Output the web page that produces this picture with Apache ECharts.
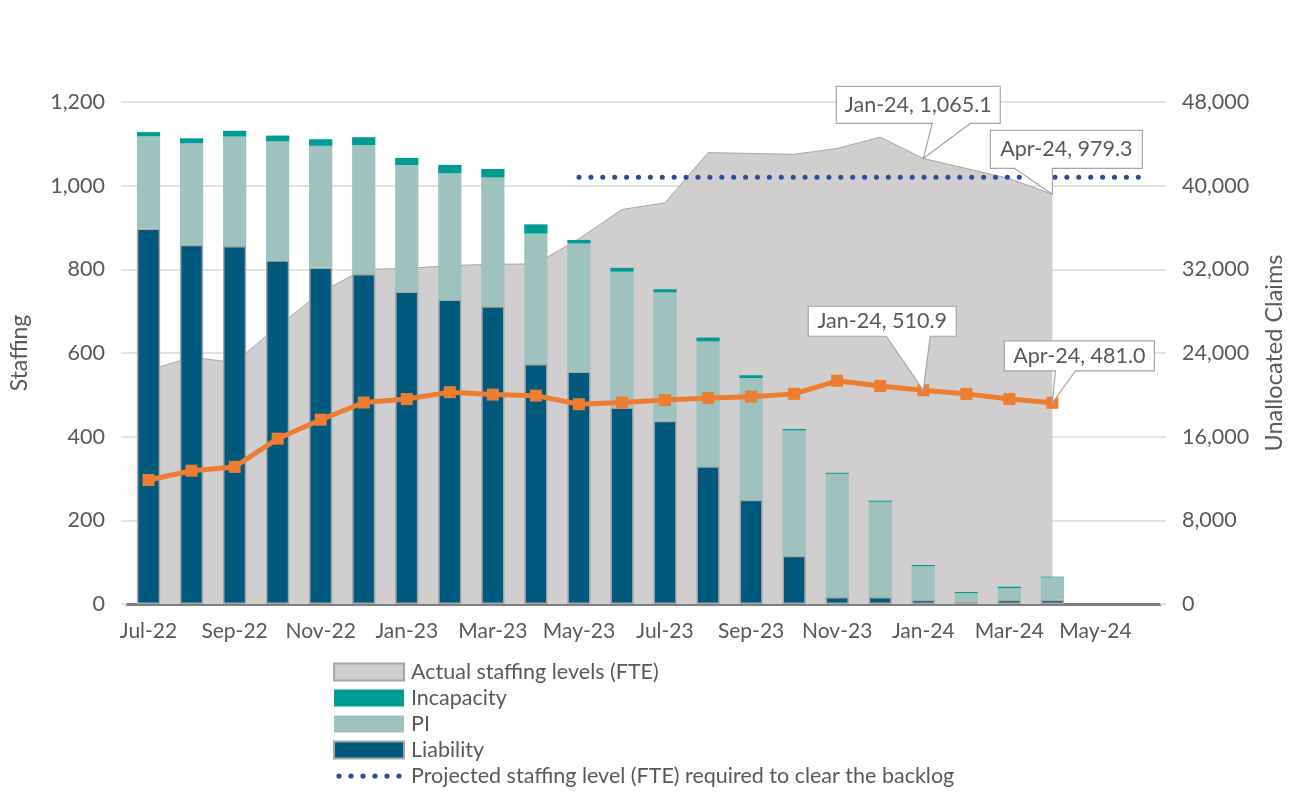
<!DOCTYPE html>
<html>
<head>
<meta charset="utf-8">
<script src="https://cdn.jsdelivr.net/npm/echarts@6/dist/echarts.min.js"></script>
<style>
html,body{margin:0;padding:0;background:#fff;}
#chart{width:1309px;height:797px;}
</style>
</head>
<body>
<div id="chart"></div>
<script>
const categories = ['Jul-22','Aug-22','Sep-22','Oct-22','Nov-22','Dec-22','Jan-23','Feb-23','Mar-23','Apr-23','May-23','Jun-23','Jul-23','Aug-23','Sep-23','Oct-23','Nov-23','Dec-23','Jan-24','Feb-24','Mar-24','Apr-24','May-24','Jun-24'];
const actualStaffing = [559, 590, 577, 663, 745, 800, 802, 809, 812, 813, 873, 943, 959, 1079, 1077, 1075, 1089, 1116, 1065.1, 1041, 1017, 979.3, null, null];
const staffingLine = [296.4, 318.6, 327.7, 395.2, 440.5, 481.7, 489.9, 506.4, 500.6, 498.1, 477.6, 481.7, 487.4, 492.4, 495.7, 502.3, 533.6, 521.2, 510.9, 502.3, 489.9, 481.0, null, null];
const liability = [35900, 34350, 34220, 32870, 32180, 31550, 29870, 29120, 28460, 22960, 22230, 18800, 17520, 13170, 9980, 4610, 660, 660, 400, 260, 400, 400, null, null];
const pi = [8820, 9720, 10470, 11360, 11630, 12320, 12090, 12050, 12320, 12450, 12250, 12980, 12280, 11950, 11630, 11990, 11790, 9120, 3230, 790, 1120, 2140, null, null];
const incapacity = [400, 460, 560, 560, 630, 760, 690, 820, 820, 890, 330, 360, 300, 360, 260, 130, 100, 100, 100, 100, 130, 70, null, null];
const projected = [null, null, null, null, null, null, null, null, null, null, 1020, 1020, 1020, 1020, 1020, 1020, 1020, 1020, 1020, 1020, 1020, 1020, 1020, 1020];
const staffingTicks = [0, 1200, 200];
const claimsTicks = [0, 48000, 8000];
const callouts = [
  {cat: 'Jan-24', data: actualStaffing, box: [-87, 77, -72, -35], wedge: [9, 47]},
  {cat: 'Apr-24', data: actualStaffing, box: [-62, 90, -64, -26], wedge: [-38, 0]},
  {cat: 'Jan-24', data: staffingLine, box: [-115, 33, -84, -54], wedge: [-37, 7]},
  {cat: 'Apr-24', data: staffingLine, box: [-48, 102, -62, -32], wedge: [3, 23]}
];

const FONT = 'Lato, "Noto Sans", sans-serif';
const TXT = '#595959';
const fmt = v => v.toLocaleString('en-US');

// dotted legend icon: six dots inside a 70x16 box
let dotPath = 'path://M0 0 M70 16';
for (let i = 0; i < 6; i++) {
  const cx = 5 + i * 12;
  dotPath += ' M' + (cx - 2.6) + ' 8 a2.6 2.6 0 1 0 5.2 0 a2.6 2.6 0 1 0 -5.2 0 Z';
}

const chart = echarts.init(document.getElementById('chart'), null, {renderer: 'canvas'});
const option = {
  animation: false,
  textStyle: {fontFamily: FONT},
  grid: {left: 117, right: 149, top: 102, bottom: 193, containLabel: false},
  legend: {
    orient: 'vertical', left: 333, top: 661, padding: 0,
    itemWidth: 70, itemHeight: 17, itemGap: 4,
    textStyle: {fontSize: 21.5, color: TXT, fontFamily: FONT, padding: [0, 0, 0, 2]},
    data: [
      {name: 'Actual staffing levels (FTE)', icon: 'rect', itemStyle: {color: '#D0CECE', borderColor: '#A6A6A6', borderWidth: 2}},
      {name: 'Incapacity', icon: 'rect'},
      {name: 'PI', icon: 'rect'},
      {name: 'Liability', icon: 'rect', itemStyle: {color: '#005A7E', borderColor: '#A6A6A6', borderWidth: 2}},
      {name: 'Projected staffing level (FTE) required to clear the backlog', icon: dotPath, itemStyle: {color: '#2E4A9E'}}
    ]
  },
  xAxis: {
    type: 'category', data: categories, boundaryGap: true,
    axisLine: {lineStyle: {color: '#7F7F7F', width: 3}},
    axisTick: {interval: 1, length: 8, lineStyle: {color: '#7F7F7F', width: 3}},
    axisLabel: {interval: 1, color: TXT, fontSize: 21, margin: 17, fontFamily: FONT},
    splitLine: {show: false}
  },
  yAxis: [
    {
      type: 'value', min: staffingTicks[0], max: staffingTicks[1], interval: staffingTicks[2],
      name: 'Staffing', nameLocation: 'middle', nameGap: 96, nameRotate: 90,
      nameTextStyle: {fontSize: 23, color: TXT, fontFamily: FONT},
      axisLine: {show: false},
      axisTick: {show: true, length: 6, lineStyle: {color: '#D9D9D9', width: 1.5}},
      axisLabel: {color: TXT, fontSize: 21.5, margin: 22, formatter: v => fmt(v), fontFamily: FONT},
      splitLine: {lineStyle: {color: '#D9D9D9', width: 1.5}}
    },
    {
      type: 'value', min: claimsTicks[0], max: claimsTicks[1], interval: claimsTicks[2],
      name: 'Unallocated Claims', nameLocation: 'middle', nameGap: 102, nameRotate: 90,
      nameTextStyle: {fontSize: 23.5, color: TXT, fontFamily: FONT},
      axisLine: {show: false},
      axisTick: {show: true, length: 6, lineStyle: {color: '#D9D9D9', width: 1.5}},
      axisLabel: {color: TXT, fontSize: 21.5, margin: 22, formatter: v => fmt(v), fontFamily: FONT},
      splitLine: {show: false}
    }
  ],
  series: [
    {
      name: 'Actual staffing levels (FTE)', type: 'line', data: actualStaffing, yAxisIndex: 0,
      symbol: 'none', lineStyle: {color: '#A6A6A6', width: 1}, itemStyle: {color: '#D0CECE'},
      areaStyle: {color: '#D0CECE', opacity: 1}, z: 1
    },
    {
      name: 'Liability', type: 'bar', stack: 'claims', yAxisIndex: 1, data: liability, barWidth: '54%',
      itemStyle: {color: '#005A7E', borderColor: '#A6A6A6', borderWidth: 1.5}, z: 3
    },
    {
      name: 'PI', type: 'bar', stack: 'claims', yAxisIndex: 1, data: pi, barWidth: '54%',
      itemStyle: {color: '#9EC2BD'}, z: 3
    },
    {
      name: 'Incapacity', type: 'bar', stack: 'claims', yAxisIndex: 1, data: incapacity, barWidth: '54%',
      itemStyle: {color: '#009C94'}, z: 3
    },
    {
      name: 'Projected staffing level (FTE) required to clear the backlog', type: 'line', data: projected, yAxisIndex: 0,
      symbol: 'none', lineStyle: {color: '#2E4A9E', width: 5, type: [0.1, 11.8], cap: 'round'},
      itemStyle: {color: '#2E4A9E'}, z: 2
    },
    {
      name: 'Staffing required', type: 'line', data: staffingLine, yAxisIndex: 0,
      symbol: 'rect', symbolSize: 12, lineStyle: {color: '#ED7D31', width: 5},
      itemStyle: {color: '#ED7D31'}, z: 4
    }
  ]
};
chart.setOption(option);

function drawCallouts() {
  const elements = [];
  callouts.forEach(c => {
    const idx = categories.indexOf(c.cat);
    const value = c.data[idx];
    const p = chart.convertToPixel({xAxisIndex: 0, yAxisIndex: 0}, [c.cat, value]);
    const [x0, x1, y0, y1] = c.box;
    const pts = [
      [p[0] + x0, p[1] + y0], [p[0] + x1, p[1] + y0], [p[0] + x1, p[1] + y1],
      [p[0] + c.wedge[1], p[1] + y1], [p[0], p[1]], [p[0] + c.wedge[0], p[1] + y1],
      [p[0] + x0, p[1] + y1]
    ];
    elements.push({type: 'polygon', z: 100, shape: {points: pts}, style: {fill: '#FFFFFF', stroke: '#A6A6A6', lineWidth: 1.2}});
    const label = c.cat + ', ' + value.toLocaleString('en-US', {minimumFractionDigits: 1, maximumFractionDigits: 1});
    elements.push({type: 'text', z: 101, style: {text: label, x: p[0] + (x0 + x1) / 2, y: p[1] + (y0 + y1) / 2,
      textAlign: 'center', textVerticalAlign: 'middle', font: '21.5px ' + FONT, fill: TXT}});
  });
  chart.setOption({graphic: elements});
}
drawCallouts();
</script>
</body>
</html>
